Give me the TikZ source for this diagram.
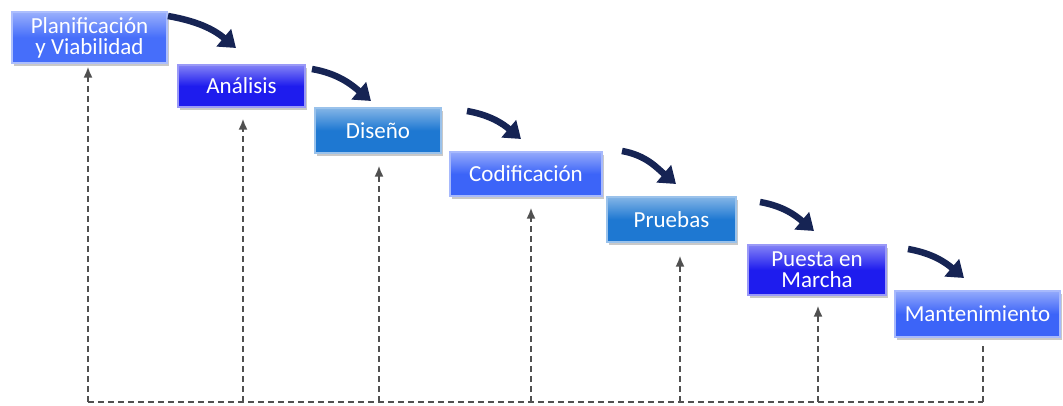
\documentclass[tikz,border=0pt]{standalone}
\usepackage{fontspec}
\setmainfont{Carlito}
\usetikzlibrary{arrows.meta,shadows,calc}
\definecolor{navy}{RGB}{22,36,84}
\definecolor{dashgray}{RGB}{80,80,80}
\definecolor{cPeri}{RGB}{70,110,250}
\definecolor{cDeep}{RGB}{30,28,238}
\definecolor{cSteel}{RGB}{30,120,210}
\definecolor{cMid}{RGB}{60,100,248}
\tikzset{
  stagebox/.style={rectangle, inner sep=0pt, align=center, text=white,
    font=\fontsize{23}{22}\selectfont,
    top color=#1!55!white, bottom color=#1, middle color=#1,
    draw=#1!45!white, line width=1.2pt,
    drop shadow={shadow xshift=2pt, shadow yshift=-3pt, opacity=0.35, fill=black!60}},
  flowarrow/.style={navy, line width=6.5pt,
    -{Triangle[length=16pt,width=22pt]}},
  feedback/.style={dashgray, line width=2pt, dash pattern=on 6pt off 4pt},
  feedtip/.style={feedback, -{Latex[length=11pt,width=9pt]}}
}
\begin{document}
\begin{tikzpicture}[x=1pt,y=-1pt]
\useasboundingbox (0,0) rectangle (1063,406);
\fill[white] (0,0) rectangle (1063,406);
% stage boxes
\node[stagebox=cPeri, minimum width=155, minimum height=51] (b1) at (89.5,37.5) {Planificación\\[-1pt]y Viabilidad};
\node[stagebox=cDeep, minimum width=127, minimum height=42] (b2) at (241.5,86) {Análisis};
\node[stagebox=cSteel, minimum width=126, minimum height=45] (b3) at (378,130.5) {Diseño};
\node[stagebox=cMid, minimum width=152, minimum height=44] (b4) at (526,174) {Codificación};
\node[stagebox=cSteel, minimum width=129, minimum height=45] (b5) at (671.5,219.5) {Pruebas};
\node[stagebox=cDeep, minimum width=138, minimum height=50] (b6) at (817,270) {Puesta en\\[-1pt]Marcha};
\node[stagebox=cMid, minimum width=165, minimum height=46] (b7) at (977.5,314) {Mantenimiento};
% curved arrow end points
\coordinate (s1) at (168,16);  \coordinate (e1) at (236,48);
\coordinate (s2) at (312,69);  \coordinate (e2) at (371,101);
\coordinate (s3) at (467,111); \coordinate (e3) at (521,139);
\coordinate (s4) at (622,151); \coordinate (e4) at (676,184);
\coordinate (s5) at (760,202); \coordinate (e5) at (814,231);
\coordinate (s6) at (908,249); \coordinate (e6) at (964,278);
\foreach \i in {1,...,6}{
  \draw[flowarrow] (s\i) to[out=-10, in=140] (e\i);
}
% feedback dashed lines
\coordinate (d1) at (88,402);
\coordinate (d2) at (243,402);
\coordinate (d3) at (379,402);
\coordinate (d4) at (531,402);
\coordinate (d5) at (680,402);
\coordinate (d6) at (818,402);
\coordinate (d7) at (983,402);
\draw[feedback] (d1) -- (d7);
\draw[feedtip] (d1) -- ([yshift=-3pt]d1 |- b1.south);
\draw[feedtip] (d2) -- ([yshift=-11pt]d2 |- b2.south);
\draw[feedtip] (d3) -- ([yshift=-12pt]d3 |- b3.south);
\draw[feedtip] (d4) -- ([yshift=-11pt]d4 |- b4.south);
\draw[feedtip] (d5) -- ([yshift=-13pt]d5 |- b5.south);
\draw[feedtip] (d6) -- ([yshift=-10pt]d6 |- b6.south);
\draw[feedback] (d7) -- ([yshift=-8pt]d7 |- b7.south);
\end{tikzpicture}
\end{document}
